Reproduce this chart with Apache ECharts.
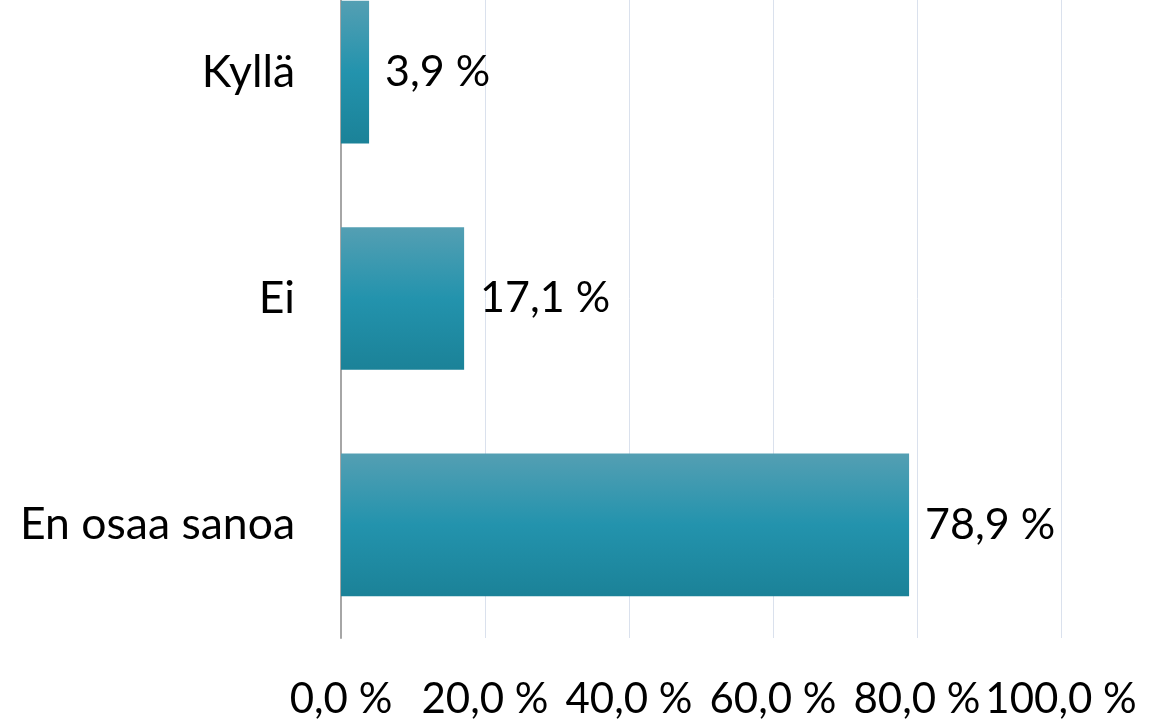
<!DOCTYPE html>
<html>
<head>
<meta charset="utf-8">
<script src="https://cdn.jsdelivr.net/npm/echarts@6/dist/echarts.min.js"></script>
<style>
  html, body { margin: 0; padding: 0; background: #fff; overflow: hidden; }
  /* the plot is cut off at the top in the reference, so shift the canvas up */
  #chart { width: 1170px; height: 766px; margin-top: -41px; }
</style>
</head>
<body>
<div id="chart"></div>
<script>
  var categories = ['Kyllä', 'Ei', 'En osaa sanoa'];
  var values = [3.9, 17.1, 78.9];
  var tickLabels = ['0,0 %', '20,0 %', '40,0 %', '60,0 %', '80,0 %', '100,0 %'];

  function pct(v) {
    return v.toFixed(1).replace('.', ',') + ' %';
  }

  var chart = echarts.init(document.getElementById('chart'));
  var barColor = new echarts.graphic.LinearGradient(0, 0, 0, 1, [
    { offset: 0, color: '#549fb3' },
    { offset: 0.5, color: '#2393ad' },
    { offset: 1, color: '#1b8298' }
  ]);

  var option = {
    animation: false,
    textStyle: { fontFamily: 'Lato, "Open Sans", sans-serif' },
    grid: { left: 341, right: 109, top: 0, bottom: 87, containLabel: false },
    xAxis: {
      type: 'value',
      min: 0,
      max: 100,
      interval: 20,
      axisLine: { show: false },
      axisTick: { show: false },
      splitLine: { lineStyle: { color: '#dae1ed', width: 1 } },
      axisLabel: {
        fontSize: 42,
        color: '#000',
        margin: 40,
        formatter: function (v) { return tickLabels[v / 20]; }
      }
    },
    yAxis: {
      type: 'category',
      inverse: true,
      data: categories,
      axisLine: { show: true, lineStyle: { color: '#a6a6a6', width: 2 } },
      axisTick: { show: false },
      axisLabel: { fontSize: 44.5, color: '#000', margin: 46 }
    },
    series: [{
      type: 'bar',
      data: values,
      barCategoryGap: '37%',
      itemStyle: { color: barColor },
      label: {
        show: true,
        position: 'right',
        distance: 16,
        fontSize: 43,
        color: '#000',
        formatter: function (p) { return pct(p.value); }
      }
    }]
  };

  chart.setOption(option);
</script>
</body>
</html>
